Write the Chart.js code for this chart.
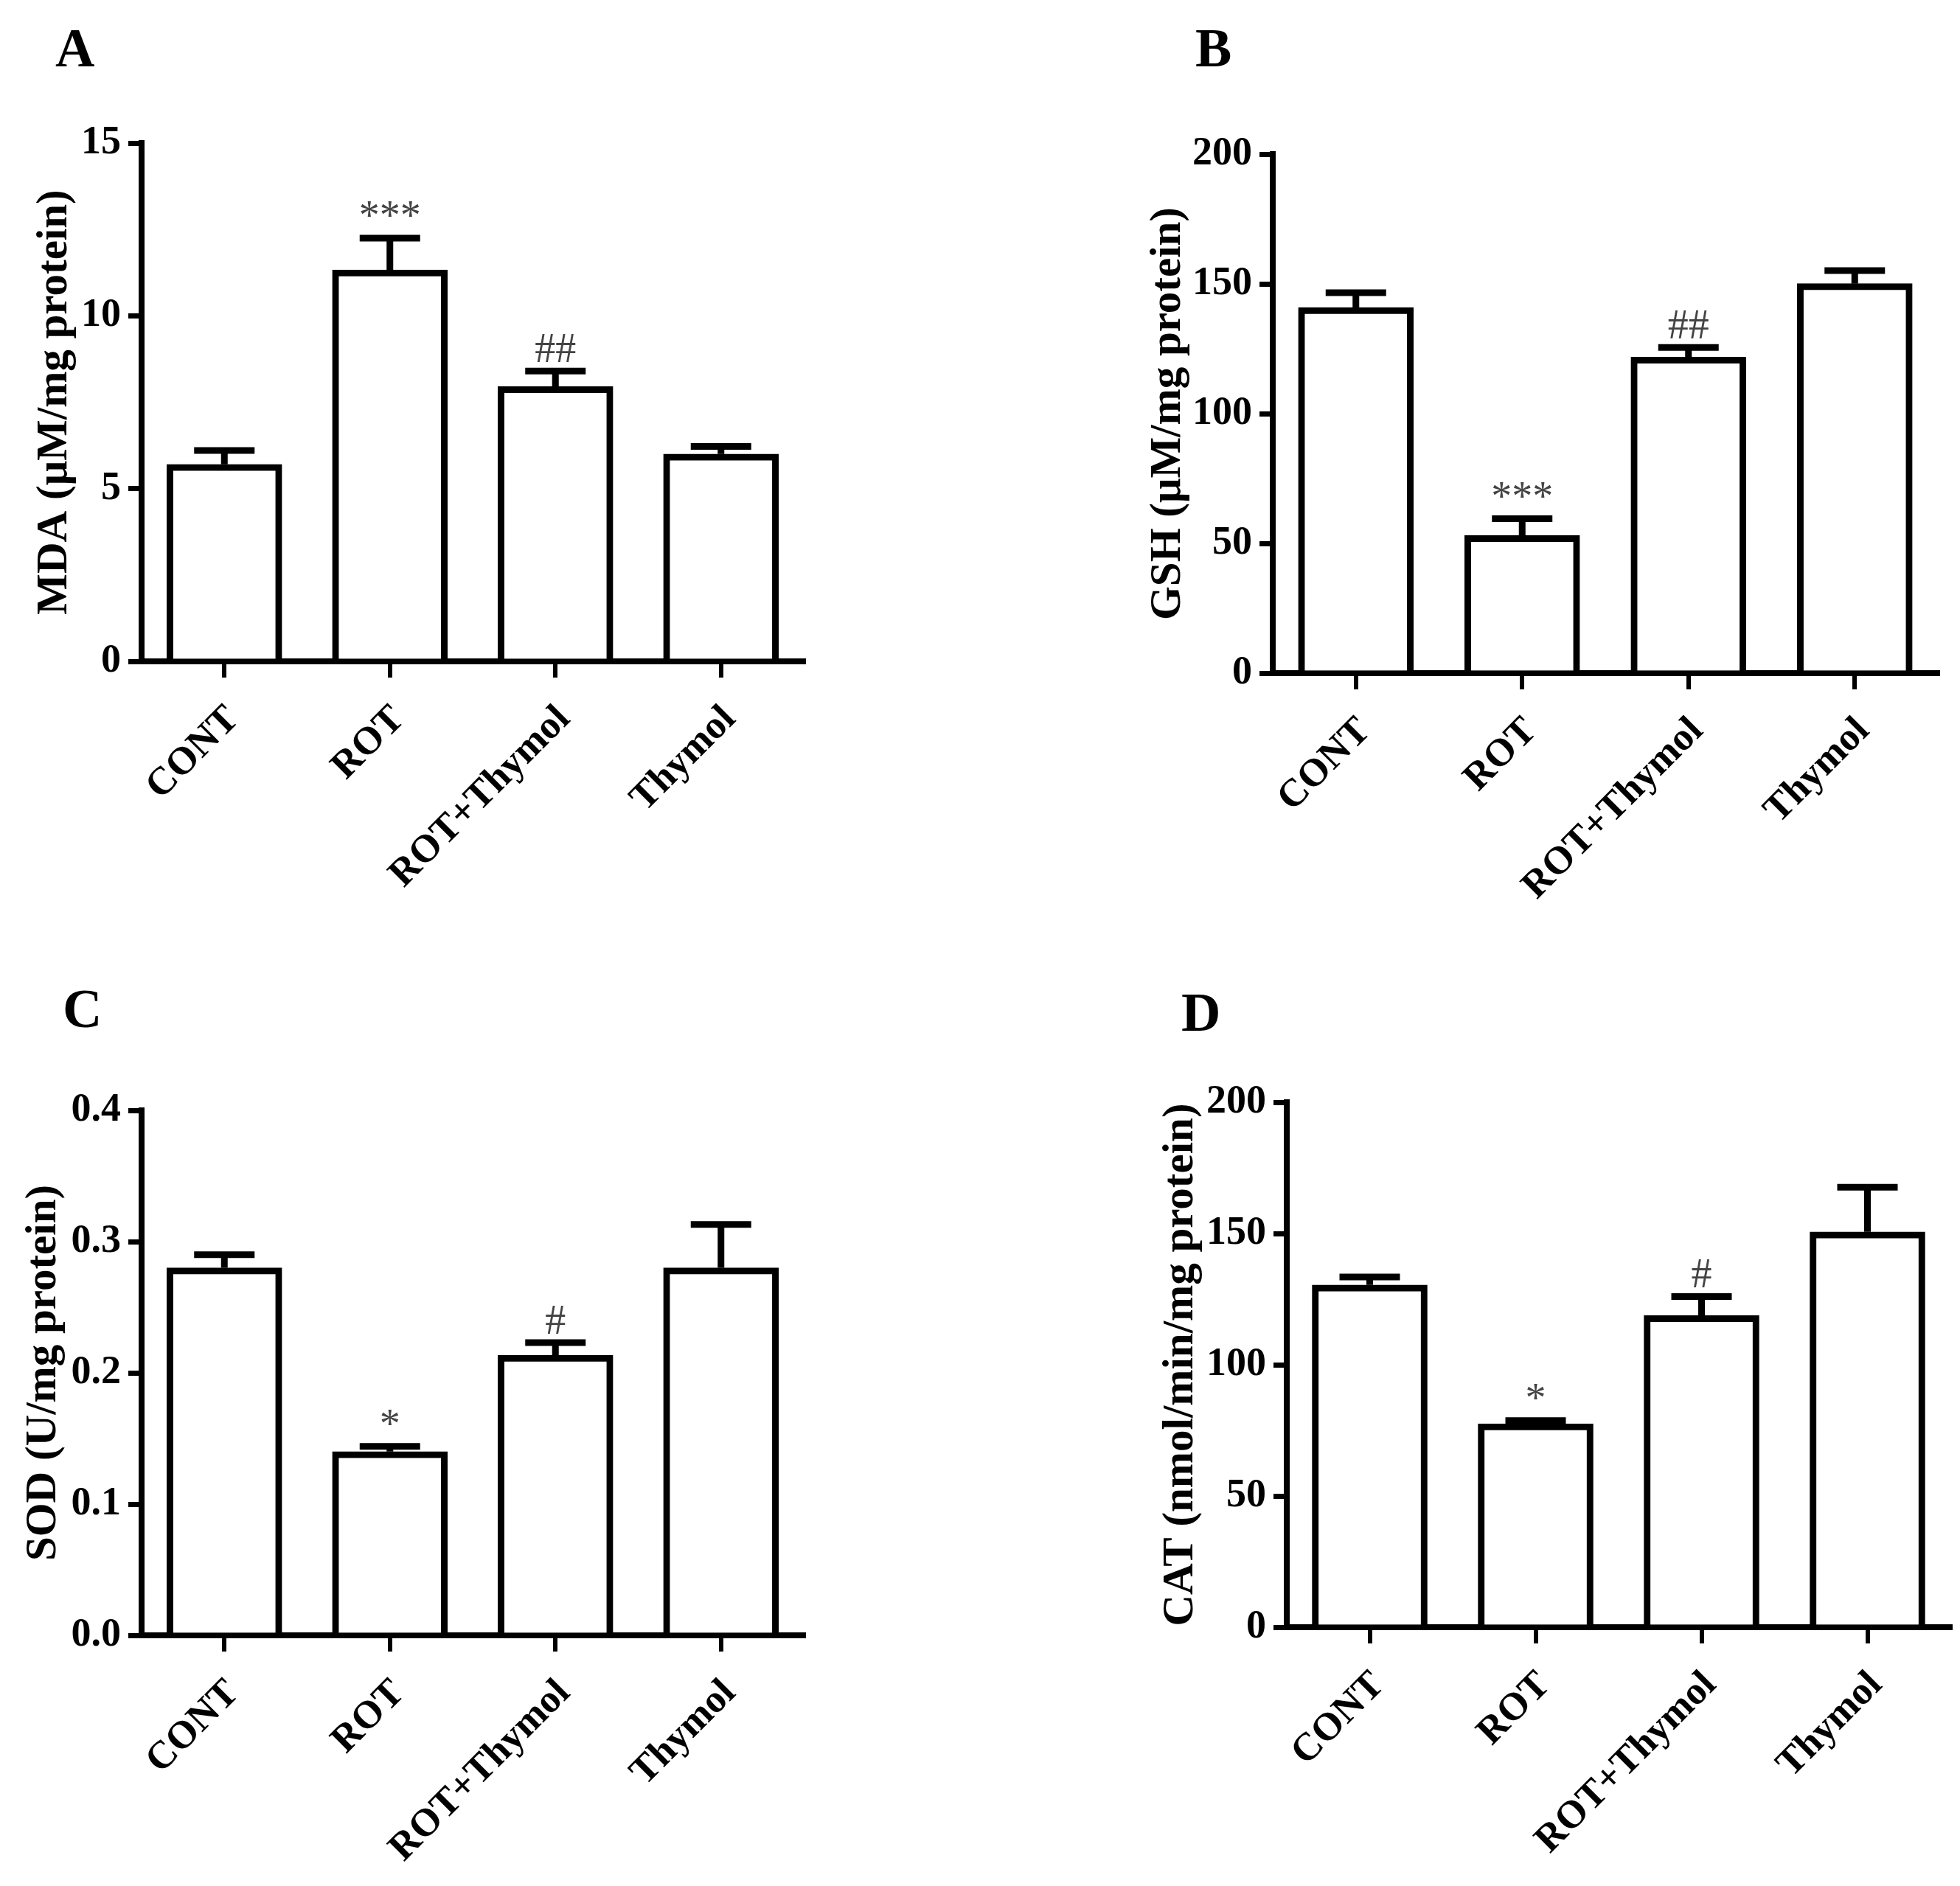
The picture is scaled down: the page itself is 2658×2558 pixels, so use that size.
<!DOCTYPE html>
<html>
<head>
<meta charset="utf-8">
<script src="https://cdn.jsdelivr.net/npm/chart.js@4.4.1/dist/chart.umd.min.js"></script>
<style>
    html, body { margin: 0; padding: 0; background: #fff; }
    #page { position: relative; width: 2658px; height: 2558px; background: #fff; }
    .panel { position: absolute; width: 1329px; height: 1279px; }
    .letter { position: absolute; font: bold 74px "Liberation Serif", serif; line-height: 1; color: #000; }
</style>
</head>
<body>
<div id="page">
    <div class="panel" style="left:0;top:0"><canvas id="chartA" width="1329" height="1279"></canvas></div>
    <div class="panel" style="left:1329px;top:0"><canvas id="chartB" width="1329" height="1279"></canvas></div>
    <div class="panel" style="left:0;top:1279px"><canvas id="chartC" width="1329" height="1279"></canvas></div>
    <div class="panel" style="left:1329px;top:1279px"><canvas id="chartD" width="1329" height="1279"></canvas></div>
    <div class="letter" style="left:75px;top:28px">A</div>
    <div class="letter" style="left:1621px;top:28px">B</div>
    <div class="letter" style="left:85px;top:1331px">C</div>
    <div class="letter" style="left:1602px;top:1336px">D</div>
</div>
<script>

const groups = [ 'CONT', 'ROT', 'ROT+Thymol', 'Thymol' ];

// MDA (panel A)
const mdaMean = [ 5.7, 11.33, 7.95, 6.0 ];
const mdaSem = [ 0.4, 0.92, 0.45, 0.22 ];
const mdaMarks = [ '', '***', '##', '' ];

// GSH (panel B)
const gshMean = [ 140.9, 53.0, 121.8, 150.1 ];
const gshSem = [ 5.7, 6.5, 3.7, 5.0 ];
const gshMarks = [ '', '***', '##', '' ];

// SOD (panel C)
const sodMean = [ 0.28, 0.14, 0.2135, 0.28 ];
const sodSem = [ 0.01, 0.004, 0.0095, 0.033 ];
const sodMarks = [ '', '*', '#', '' ];

// CAT (panel D)
const catMean = [ 130.4, 77.5, 118.7, 150.6 ];
const catSem = [ 3.0, 1.2, 7.3, 17.0 ];
const catMarks = [ '', '*', '#', '' ];

const FONT = '"Liberation Serif", "Times New Roman", serif';
const W = 1329, H = 1279;

/**
 * Draws the upper error bar and the significance mark for every bar.
 */
const errorBarPlugin = {
    id: 'errorBars',
    afterDatasetsDraw ( chart ) {

        const ds = chart.data.datasets[ 0 ];
        const meta = chart.getDatasetMeta( 0 );
        const y = chart.scales.y;
        const ctx = chart.ctx;

        ctx.save();
        ctx.strokeStyle = '#000';
        ctx.lineWidth = 9;
        ctx.lineCap = 'butt';

        meta.data.forEach( ( bar, i ) => {

            const top = y.getPixelForValue( ds.data[ i ] );
            const tip = y.getPixelForValue( ds.data[ i ] + ds.sem[ i ] );

            ctx.beginPath();
            ctx.moveTo( bar.x, top );
            ctx.lineTo( bar.x, tip );
            ctx.moveTo( bar.x - 41, tip );
            ctx.lineTo( bar.x + 41, tip );
            ctx.stroke();

            if ( ds.marks[ i ] ) {
                ctx.fillStyle = '#444';
                ctx.font = `56px ${FONT}`;
                ctx.textAlign = 'center';
                ctx.textBaseline = 'alphabetic';
                ctx.fillText( ds.marks[ i ], bar.x, tip - 12 );
            }

        } );

        ctx.restore();

    }
};

function renderPanel ( id, mean, sem, marks, yTitle, yMax, yStep, decimals, box ) {

    const titleSize = 59;
    const padLeft = box.titleX - titleSize / 2;

    return new Chart( document.getElementById( id ), {
        type: 'bar',
        data: {
            labels: groups,
            datasets: [ {
                data: mean,
                sem: sem,
                marks: marks,
                backgroundColor: '#fff',
                borderColor: '#000',
                borderWidth: 9,
                barThickness: 156
            } ]
        },
        options: {
            responsive: false,
            devicePixelRatio: 1,
            animation: false,
            events: [],
            layout: {
                padding: { left: padLeft, top: box.top, right: W - box.right, bottom: 10 }
            },
            plugins: { legend: { display: false }, tooltip: { enabled: false } },
            scales: {
                x: {
                    offset: true,
                    grid: {
                        offset: false,
                        drawOnChartArea: false,
                        drawTicks: true,
                        tickLength: 22,
                        lineWidth: 6,
                        color: '#000'
                    },
                    border: { display: true, width: 8, color: '#000' },
                    ticks: {
                        autoSkip: false,
                        maxRotation: 45,
                        minRotation: 45,
                        padding: 26,
                        labelOffset: 12,
                        color: '#000',
                        font: { family: FONT, weight: 'bold', size: 53 }
                    },
                    afterFit: s => { s.height = H - box.bottom - 10; }
                },
                y: {
                    min: 0,
                    max: yMax,
                    grid: {
                        drawOnChartArea: false,
                        drawTicks: true,
                        tickLength: 18,
                        lineWidth: 7,
                        color: '#000'
                    },
                    border: { display: true, width: 8, color: '#000' },
                    ticks: {
                        stepSize: yStep,
                        padding: 10,
                        color: '#000',
                        font: { family: FONT, weight: 'bold', size: 54 },
                        callback: v => Number( v ).toFixed( decimals )
                    },
                    title: {
                        display: true,
                        text: yTitle,
                        color: '#000',
                        padding: 0,
                        font: { family: FONT, weight: 'bold', size: titleSize, lineHeight: 1 }
                    },
                    afterFit: s => { s.width = box.axisX - padLeft; }
                }
            }
        },
        plugins: [ errorBarPlugin ]
    } );

}

renderPanel( 'chartA', mdaMean, mdaSem, mdaMarks, 'MDA (μM/mg protein)', 15, 5, 0,
    { titleX: 75, axisX: 192, top: 194, bottom: 897, right: 1090 } );

renderPanel( 'chartB', gshMean, gshSem, gshMarks, 'GSH (μM/mg protein)', 200, 50, 0,
    { titleX: 256, axisX: 397, top: 209, bottom: 913, right: 1299 } );

renderPanel( 'chartC', sodMean, sodSem, sodMarks, 'SOD (U/mg protein)', 0.4, 0.1, 1,
    { titleX: 60, axisX: 192, top: 227, bottom: 939, right: 1090 } );

renderPanel( 'chartD', catMean, catSem, catMarks, 'CAT (nmol/min/mg protein)', 200, 50, 0,
    { titleX: 273, axisX: 416, top: 216, bottom: 928, right: 1316 } );

</script>
</body>
</html>
